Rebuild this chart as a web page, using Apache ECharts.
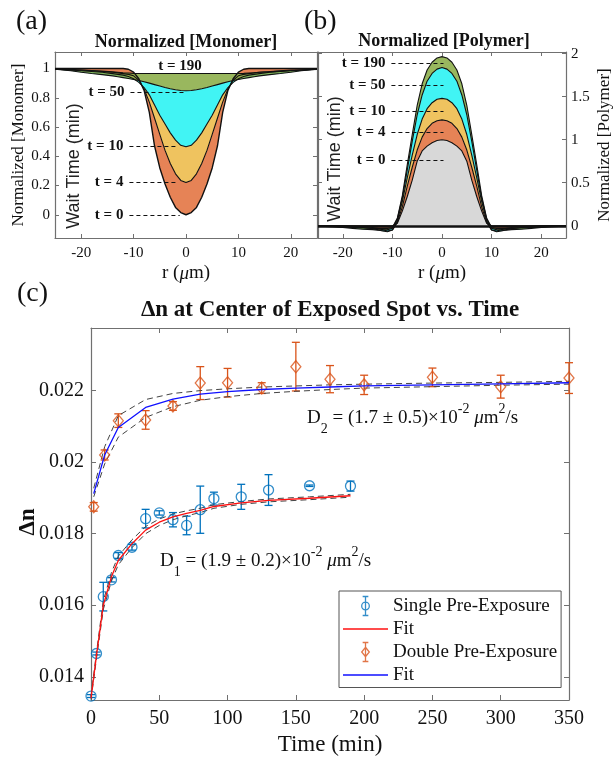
<!DOCTYPE html>
<html><head><meta charset="utf-8">
<script src="https://cdn.jsdelivr.net/npm/echarts@6/dist/echarts.min.js"></script>
<style>html,body{margin:0;padding:0;background:#fff}#c{width:614px;height:760px}</style>
</head><body><div id="c"></div>
<script>
// ---------- Panel (a)/(b) radial grid (µm) ----------
const rGrid = [-25,-22,-20,-18,-16,-14,-13,-12,-11,-10,-9,-8,-7,-6,-5,-4,-3,-2,-1,0,1,2,3,4,5,6,7,8,9,10,11,12,13,14,16,18,20,22,25];

// Normalized [Monomer] profiles
const mono0   = [1,1,1,1,1,1,1,1,0.995,0.975,0.93,0.85,0.70,0.47,0.32,0.21,0.12,0.05,0.015,0,0.015,0.05,0.12,0.21,0.32,0.47,0.70,0.85,0.93,0.975,0.995,1,1,1,1,1,1,1,1];
const mono4   = [0.995,0.99,0.99,0.985,0.98,0.975,0.97,0.965,0.96,0.95,0.92,0.86,0.77,0.66,0.55,0.44,0.35,0.28,0.235,0.22,0.235,0.28,0.35,0.44,0.55,0.66,0.77,0.86,0.92,0.95,0.96,0.965,0.97,0.975,0.98,0.985,0.99,0.99,0.995];
const mono10  = [0.995,0.99,0.985,0.98,0.975,0.965,0.96,0.955,0.945,0.93,0.905,0.87,0.82,0.75,0.68,0.62,0.56,0.51,0.475,0.465,0.475,0.51,0.56,0.62,0.68,0.75,0.82,0.87,0.905,0.93,0.945,0.955,0.96,0.965,0.975,0.98,0.985,0.99,0.995];
const mono50  = [0.995,0.985,0.975,0.966,0.958,0.95,0.944,0.938,0.932,0.925,0.918,0.91,0.90,0.89,0.88,0.87,0.862,0.855,0.85,0.848,0.85,0.855,0.862,0.87,0.88,0.89,0.90,0.91,0.918,0.925,0.932,0.938,0.944,0.95,0.958,0.966,0.975,0.985,0.995];
const mono190 = [0.998,0.994,0.99,0.986,0.982,0.977,0.974,0.971,0.969,0.967,0.966,0.966,0.966,0.966,0.966,0.966,0.966,0.966,0.966,0.966,0.966,0.966,0.966,0.966,0.966,0.966,0.966,0.966,0.966,0.966,0.967,0.969,0.971,0.974,0.977,0.982,0.986,0.99,0.994];

// Normalized [Polymer] profiles
const poly0   = [0,0,0,0,0,0,0,0,0,0,0.03,0.17,0.34,0.53,0.75,0.87,0.925,0.965,0.99,1.0,0.99,0.965,0.925,0.87,0.75,0.53,0.34,0.17,0.03,0,0,0,0,0,0,0,0,0,0];
const poly4   = [0,0,0,-0.005,-0.01,-0.02,-0.03,-0.045,-0.06,-0.05,0.04,0.22,0.46,0.68,0.88,1.03,1.13,1.19,1.22,1.23,1.22,1.19,1.13,1.03,0.88,0.68,0.46,0.22,0.04,-0.05,-0.06,-0.045,-0.03,-0.02,-0.01,-0.005,0,0,0];
const poly10  = [0,0,-0.005,-0.01,-0.02,-0.035,-0.045,-0.06,-0.07,-0.05,0.06,0.28,0.56,0.82,1.06,1.24,1.36,1.43,1.47,1.48,1.47,1.43,1.36,1.24,1.06,0.82,0.56,0.28,0.06,-0.05,-0.07,-0.06,-0.045,-0.035,-0.02,-0.01,-0.005,0,0];
const poly50  = [-0.005,-0.01,-0.02,-0.03,-0.04,-0.045,-0.05,-0.05,-0.045,-0.03,0.08,0.32,0.65,0.98,1.29,1.52,1.68,1.77,1.82,1.84,1.82,1.77,1.68,1.52,1.29,0.98,0.65,0.32,0.08,-0.03,-0.045,-0.05,-0.05,-0.045,-0.04,-0.03,-0.02,-0.01,-0.005];
const poly190 = [-0.005,-0.01,-0.015,-0.02,-0.025,-0.03,-0.03,-0.03,-0.03,-0.02,0.09,0.35,0.71,1.06,1.40,1.65,1.81,1.90,1.95,1.965,1.95,1.90,1.81,1.65,1.40,1.06,0.71,0.35,0.09,-0.02,-0.03,-0.03,-0.03,-0.03,-0.025,-0.02,-0.015,-0.01,-0.005];

// tick labels
const rTicks = [-20,-10,0,10,20];
const monoTicks = [0,0.2,0.4,0.6,0.8,1];
const polyTicks = [0,0.5,1,1.5,2];
const dnTicks = [0.014,0.016,0.018,0.02,0.022];

// ---------- Panel (c) ----------
const tSingle = [0,4,9,15,20,30,40,50,60,70,80,90,110,130,160,190];
const dnSingle = [0.01346,0.01465,0.01624,0.01671,0.01739,0.01762,0.01842,0.01858,0.01839,0.01823,0.01867,0.01898,0.01903,0.01922,0.01934,0.01933];
const errSingle = [0.00004,0.00004,0.0004,0.00006,0.00008,0.00008,0.00026,0.00006,0.0002,0.00026,0.00066,0.00018,0.00035,0.00043,0.00002,0.00014];
const fitSingle = [0.0134,0.01459,0.016,0.0168,0.01725,0.01772,0.0181,0.01832,0.01847,0.01857,0.01865,0.01876,0.01886,0.01893,0.01899,0.01906];
const fitSingleHi = [0.01346,0.01468,0.01612,0.01692,0.01737,0.01783,0.0182,0.01841,0.01855,0.01864,0.01871,0.01881,0.0189,0.01897,0.01903,0.0191];
const fitSingleLo = [0.01336,0.0145,0.01588,0.01668,0.01713,0.01761,0.018,0.01823,0.01839,0.0185,0.01859,0.01871,0.01882,0.01889,0.01895,0.01902];

const tDouble = [2,10,20,40,60,80,100,125,150,175,200,250,300,350];
const dnDouble = [0.01875,0.0202,0.02116,0.02118,0.02157,0.02221,0.02222,0.02207,0.02267,0.02232,0.02216,0.02237,0.02211,0.02235];
const errDouble = [0.00012,0.00014,0.00019,0.00026,0.00012,0.00046,0.0004,0.00015,0.00068,0.00038,0.00027,0.00026,0.00032,0.00043];
const fitDouble = [0.01912,0.0202,0.02097,0.02153,0.02176,0.0219,0.02197,0.02203,0.02207,0.0221,0.02213,0.02216,0.02219,0.02222];
const fitDoubleHi = [0.01927,0.02043,0.0213,0.02175,0.02192,0.022,0.02205,0.0221,0.02213,0.02216,0.02218,0.02221,0.02223,0.02226];
const fitDoubleLo = [0.01903,0.01995,0.0207,0.02125,0.02155,0.02173,0.02183,0.02192,0.02198,0.02203,0.02207,0.02211,0.02215,0.02218];

// ---------- styling ----------
const SERIF = '"Liberation Serif","Times New Roman",serif';
const SANS = '"Liberation Sans",Arial,sans-serif';
const AX = '#707070';
const TXT = '#111';
const C_OR = '#E2723F', C_YE = '#EDBB49', C_CY = '#27F2F2', C_GR = '#8BAD48', C_GY = '#D3D3D3';
const BLUE = '#0072BD', ORANGE = '#D95319', RED = '#ff1010', BLU2 = '#1010ff';

function pairs(xs, ys) { return xs.map((x, i) => [x, ys[i]]); }

function band(xi, yi, lower, upper, color) {
  return {
    type: 'custom', xAxisIndex: xi, yAxisIndex: yi, silent: true, z: 1, clip: true,
    data: [[0, 0]],
    renderItem(params, api) {
      const pts = [];
      for (let i = 0; i < rGrid.length; i++) pts.push(api.coord([rGrid[i], upper[i]]));
      for (let i = rGrid.length - 1; i >= 0; i--) pts.push(api.coord([rGrid[i], lower ? lower[i] : 0]));
      return { type: 'polygon', shape: { points: pts }, style: { fill: color, opacity: 0.88 } };
    }
  };
}
function outline(xi, yi, arr, extra) {
  return Object.assign({
    type: 'line', xAxisIndex: xi, yAxisIndex: yi, data: pairs(rGrid, arr), symbol: 'none',
    silent: true, z: 3, lineStyle: { color: '#111', width: 1.1 }
  }, extra || {});
}
function errBars(xi, yi, t, v, e, color) {
  return {
    type: 'custom', xAxisIndex: xi, yAxisIndex: yi, z: 3, silent: true,
    data: t.map((x, i) => [x, v[i], e[i]]),
    encode: { x: 0, y: 1 },
    renderItem(params, api) {
      const x = api.value(0), y = api.value(1), er = api.value(2);
      const a = api.coord([x, y + er]), b = api.coord([x, y - er]);
      const w = 4, st = { stroke: color, lineWidth: 1.3 };
      return { type: 'group', children: [
        { type: 'line', shape: { x1: a[0], y1: a[1], x2: b[0], y2: b[1] }, style: st },
        { type: 'line', shape: { x1: a[0] - w, y1: a[1], x2: a[0] + w, y2: a[1] }, style: st },
        { type: 'line', shape: { x1: b[0] - w, y1: b[1], x2: b[0] + w, y2: b[1] }, style: st }
      ] };
    }
  };
}
function dashed(xi, yi, t, v) {
  return { type: 'line', xAxisIndex: xi, yAxisIndex: yi, data: pairs(t, v), symbol: 'none', silent: true, z: 4,
    lineStyle: { color: '#444', width: 1, type: [6, 4] } };
}
const leaderLabel = { show: true, position: 'start', distance: 6, formatter: '{b}', fontFamily: SERIF, fontWeight: 'bold', fontSize: 15, color: TXT };
function leader(name, x1, x2, y) { return [{ name, coord: [x1, y] }, { coord: [x2, y] }]; }

function axisBase(extra) {
  return Object.assign({
    type: 'value', splitLine: { show: false },
    axisLine: { show: true, onZero: false, lineStyle: { color: AX, width: 1.2 } },
  }, extra);
}
function tickOnly(ticks) { return { show: true, inside: true, length: 4, lineStyle: { color: AX }, customValues: ticks }; }
function labels(ticks, size, margin) { return { show: true, customValues: ticks, fontFamily: SERIF, fontSize: size, color: TXT, margin }; }
const rName = { fontFamily: SERIF, fontSize: 19, color: TXT, rich: { i: { fontFamily: SERIF, fontSize: 19, fontStyle: 'italic', color: TXT } } };

const chart = echarts.init(document.getElementById('c'));
const option = {
  animation: false,
  backgroundColor: '#fff',
  grid: [
    { left: 55, top: 52, width: 262, height: 186 },
    { left: 318, top: 52, width: 249, height: 186 },
    { left: 91, top: 328, width: 478, height: 372 }
  ],
  xAxis: [
    axisBase({ gridIndex: 0, position: 'bottom', min: -25, max: 25, axisTick: tickOnly(rTicks), axisLabel: labels(rTicks, 15, 8),
      name: 'r ({i|μ}m)', nameLocation: 'middle', nameGap: 26, nameTextStyle: rName }),
    axisBase({ gridIndex: 0, position: 'top', min: -25, max: 25, axisTick: tickOnly(rTicks), axisLabel: { show: false } }),
    axisBase({ gridIndex: 1, position: 'bottom', min: -25, max: 25, axisTick: tickOnly(rTicks), axisLabel: labels(rTicks, 15, 8),
      name: 'r ({i|μ}m)', nameLocation: 'middle', nameGap: 26, nameTextStyle: rName }),
    axisBase({ gridIndex: 1, position: 'top', min: -25, max: 25, axisTick: tickOnly(rTicks), axisLabel: { show: false } }),
    axisBase({ gridIndex: 2, position: 'bottom', min: 0, max: 350, interval: 50, axisTick: { show: true, inside: true, length: 5, lineStyle: { color: AX } },
      axisLabel: { show: true, fontFamily: SERIF, fontSize: 20, color: TXT, margin: 9 },
      name: 'Time (min)', nameLocation: 'middle', nameGap: 33, nameTextStyle: { fontFamily: SERIF, fontSize: 23, color: TXT } }),
    axisBase({ gridIndex: 2, position: 'top', min: 0, max: 350, interval: 50, axisTick: { show: true, inside: true, length: 5, lineStyle: { color: AX } }, axisLabel: { show: false } })
  ],
  yAxis: [
    axisBase({ gridIndex: 0, position: 'left', min: -0.159, max: 1.113, axisTick: tickOnly(monoTicks), axisLabel: labels(monoTicks, 15, 5),
      name: 'Normalized [Monomer]', nameLocation: 'middle', nameGap: 28, nameRotate: 90, nameTextStyle: { fontFamily: SERIF, fontSize: 17, color: TXT } }),
    axisBase({ gridIndex: 0, position: 'right', min: -0.159, max: 1.113, axisTick: tickOnly(monoTicks), axisLabel: { show: false } }),
    axisBase({ gridIndex: 1, position: 'left', min: -0.142, max: 2.019, axisTick: tickOnly(polyTicks), axisLabel: { show: false } }),
    axisBase({ gridIndex: 1, position: 'right', min: -0.142, max: 2.019, axisTick: tickOnly(polyTicks), axisLabel: labels(polyTicks, 15, 5),
      name: 'Normalized [Polymer]', nameLocation: 'middle', nameGap: 30, nameRotate: 90, nameTextStyle: { fontFamily: SERIF, fontSize: 17, color: TXT } }),
    axisBase({ gridIndex: 2, position: 'left', min: 0.01335, max: 0.02375, axisTick: { show: true, inside: true, length: 5, lineStyle: { color: AX }, customValues: dnTicks },
      axisLabel: labels(dnTicks, 20, 7) }),
    axisBase({ gridIndex: 2, position: 'right', min: 0.01335, max: 0.02375, axisTick: { show: true, inside: true, length: 5, lineStyle: { color: AX }, customValues: dnTicks }, axisLabel: { show: false } })
  ],
  legend: {
    orient: 'vertical', left: 339, top: 591, padding: [3, 4, 3, 4], itemGap: 1.5, itemWidth: 45, itemHeight: 19,
    backgroundColor: '#fff', borderColor: '#555', borderWidth: 1, selectedMode: false, z: 10,
    textStyle: { fontFamily: SERIF, fontSize: 19, color: TXT },
    data: [
      { name: 'Single Pre-Exposure', icon: 'path://M2,0H8M5,0V20M2,20H8M9,10A4,4 0 1,1 1,10A4,4 0 1,1 9,10', itemStyle: { color: 'none', borderColor: BLUE, borderWidth: 1.3 } },
      { name: 'Fit', icon: 'path://M0,0H45V1.4H0Z', itemStyle: { color: RED, borderWidth: 0 } },
      { name: 'Double Pre-Exposure', icon: 'path://M2,0H8M5,0V20M2,20H8M5,5L9,10L5,15L1,10Z', itemStyle: { color: 'none', borderColor: ORANGE, borderWidth: 1.3 } },
      { name: 'Fit ', icon: 'path://M0,0H45V1.4H0Z', itemStyle: { color: BLU2, borderWidth: 0 } }
    ]
  },
  graphic: [
    { type: 'text', x: 16, y: 22, z: 10, style: { text: '(a)', font: '28px ' + SERIF, fill: TXT, verticalAlign: 'middle' } },
    { type: 'text', x: 304, y: 22, z: 10, style: { text: '(b)', font: '28px ' + SERIF, fill: TXT, verticalAlign: 'middle' } },
    { type: 'text', x: 17, y: 294, z: 10, style: { text: '(c)', font: '28px ' + SERIF, fill: TXT, verticalAlign: 'middle' } },
    { type: 'text', x: 186, y: 42, z: 10, style: { text: 'Normalized [Monomer]', font: 'bold 18px ' + SERIF, fill: TXT, align: 'center', verticalAlign: 'middle' } },
    { type: 'text', x: 444, y: 41, z: 10, style: { text: 'Normalized [Polymer]', font: 'bold 18px ' + SERIF, fill: TXT, align: 'center', verticalAlign: 'middle' } },
    { type: 'text', x: 330, y: 310, z: 10, style: { text: 'Δn at Center of Exposed Spot vs. Time', font: 'bold 23px ' + SERIF, fill: TXT, align: 'center', verticalAlign: 'middle' } },
    { type: 'text', x: 28, y: 522, rotation: Math.PI / 2, z: 10, style: { text: 'Δn', font: 'bold 23px ' + SERIF, fill: TXT, align: 'center', verticalAlign: 'middle' } },
    { type: 'text', x: 74, y: 166, rotation: Math.PI / 2, z: 10, style: { text: 'Wait Time (min)', font: '18px ' + SANS, fill: '#222', align: 'center', verticalAlign: 'middle' } },
    { type: 'text', x: 335, y: 159, rotation: Math.PI / 2, z: 10, style: { text: 'Wait Time (min)', font: '18px ' + SANS, fill: '#222', align: 'center', verticalAlign: 'middle' } },
    { type: 'text', x: 180, y: 66, z: 10, style: { text: 't = 190', font: 'bold 15px ' + SERIF, fill: TXT, align: 'center', verticalAlign: 'middle' } },
    { type: 'text', x: 307, y: 418, z: 10, style: { text: '{n|D}{s|2}{n| = (1.7 ± 0.5)×10}{p|-2}{n| }{mu|μ}{n|m}{p|2}{n|/s}', verticalAlign: 'middle',
      rich: { n: { fontFamily: SERIF, fontSize: 19, lineHeight: 20, fill: TXT }, s: { fontFamily: SERIF, fontSize: 14, lineHeight: 14, padding: [22, 0, 0, 0], fill: TXT },
              p: { fontFamily: SERIF, fontSize: 14, lineHeight: 14, padding: [0, 0, 18, 0], fill: TXT }, mu: { fontFamily: SERIF, fontSize: 19, lineHeight: 20, fontStyle: 'italic', fill: TXT } } } },
    { type: 'text', x: 160, y: 561, z: 10, style: { text: '{n|D}{s|1}{n| = (1.9 ± 0.2)×10}{p|-2}{n| }{mu|μ}{n|m}{p|2}{n|/s}', verticalAlign: 'middle',
      rich: { n: { fontFamily: SERIF, fontSize: 19, lineHeight: 20, fill: TXT }, s: { fontFamily: SERIF, fontSize: 14, lineHeight: 14, padding: [22, 0, 0, 0], fill: TXT },
              p: { fontFamily: SERIF, fontSize: 14, lineHeight: 14, padding: [0, 0, 18, 0], fill: TXT }, mu: { fontFamily: SERIF, fontSize: 19, lineHeight: 20, fontStyle: 'italic', fill: TXT } } } }
  ],
  series: [
    // (a) bands
    band(0, 0, mono0, mono4, C_OR),
    band(0, 0, mono4, mono10, C_YE),
    band(0, 0, mono10, mono50, C_CY),
    band(0, 0, mono50, mono190, C_GR),
    outline(0, 0, mono0, {
      lineStyle: { color: '#111', width: 1.4 },
      markLine: { silent: true, symbol: ['none', 'none'], animation: false, lineStyle: { type: [4, 3], color: '#111', width: 1.2 }, label: leaderLabel,
        emphasis: { disabled: true },
        data: [leader('t = 50', -10.6, -0.4, 0.84), leader('t = 10', -10.8, -1.6, 0.466), leader('t = 4', -10.8, -1.6, 0.223), leader('t = 0', -10.8, -1.2, 0)] }
    }),
    outline(0, 0, mono4), outline(0, 0, mono10), outline(0, 0, mono50), outline(0, 0, mono190),
    // (b) bands
    band(2, 3, null, poly0, C_GY),
    band(2, 3, poly0, poly4, C_OR),
    band(2, 3, poly4, poly10, C_YE),
    band(2, 3, poly10, poly50, C_CY),
    band(2, 3, poly50, poly190, C_GR),
    outline(2, 3, poly0, {
      markLine: { silent: true, symbol: ['none', 'none'], animation: false, label: { show: false }, emphasis: { disabled: true },
        lineStyle: { type: 'solid', color: '#111', width: 2.6 }, data: [{ yAxis: 0 }] }
    }),
    outline(2, 3, poly4), outline(2, 3, poly10), outline(2, 3, poly50),
    outline(2, 3, poly190, {
      markLine: { silent: true, symbol: ['none', 'none'], animation: false, lineStyle: { type: [4, 3], color: '#111', width: 1.2 }, label: leaderLabel,
        emphasis: { disabled: true },
        data: [leader('t = 190', -10.2, 0.3, 1.888), leader('t = 50', -10.2, 0.3, 1.63), leader('t = 10', -10.2, 0.3, 1.333), leader('t = 4', -10.2, 0.3, 1.09), leader('t = 0', -10.2, 0.3, 0.763)] }
    }),
    // (c)
    { name: 'Single Pre-Exposure', type: 'scatter', xAxisIndex: 4, yAxisIndex: 4, data: pairs(tSingle, dnSingle), symbol: 'circle', symbolSize: 10, z: 4,
      itemStyle: { color: 'none', borderColor: BLUE, borderWidth: 1.3 } },
    errBars(4, 4, tSingle, dnSingle, errSingle, BLUE),
    { name: 'Fit', type: 'line', xAxisIndex: 4, yAxisIndex: 4, data: pairs(tSingle, fitSingle), symbol: 'none', z: 5, lineStyle: { color: RED, width: 1.3 }, itemStyle: { color: RED } },
    dashed(4, 4, tSingle, fitSingleHi), dashed(4, 4, tSingle, fitSingleLo),
    { name: 'Double Pre-Exposure', type: 'scatter', xAxisIndex: 4, yAxisIndex: 4, data: pairs(tDouble, dnDouble), symbol: 'diamond', symbolSize: [10, 12], z: 4,
      itemStyle: { color: 'none', borderColor: ORANGE, borderWidth: 1.3 } },
    errBars(4, 4, tDouble, dnDouble, errDouble, ORANGE),
    { name: 'Fit ', type: 'line', xAxisIndex: 4, yAxisIndex: 4, data: pairs(tDouble, fitDouble), symbol: 'none', z: 5, lineStyle: { color: BLU2, width: 1.3 }, itemStyle: { color: BLU2 } },
    dashed(4, 4, tDouble, fitDoubleHi), dashed(4, 4, tDouble, fitDoubleLo)
  ]
};
chart.setOption(option);
</script>
</body></html>
